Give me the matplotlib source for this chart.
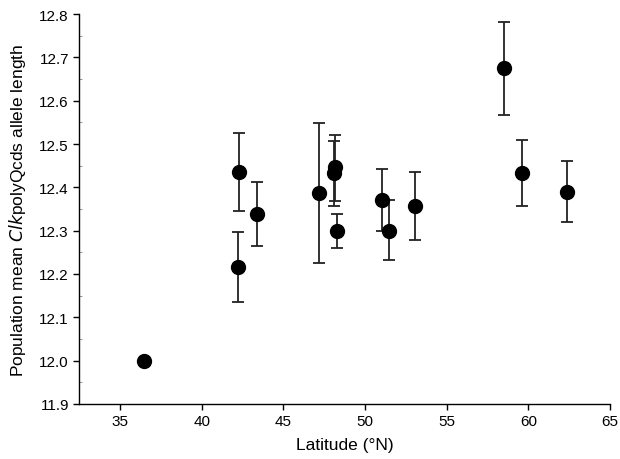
import matplotlib
matplotlib.use("Agg")
import matplotlib.pyplot as plt
import numpy as np
from matplotlib.ticker import MultipleLocator

plt.rcParams['font.family'] = ['Liberation Sans', 'DejaVu Sans']

latitude = [36.43, 42.30, 42.21, 43.38, 47.18, 48.16, 48.10, 48.30, 51.06, 51.47, 53.04, 58.52, 59.58, 62.38]
mean_len = [12.000, 12.435, 12.217, 12.339, 12.387, 12.447, 12.434, 12.300, 12.371, 12.300, 12.358, 12.675, 12.434, 12.390]
err_low = [0.0, 0.089, 0.082, 0.074, 0.162, 0.079, 0.076, 0.039, 0.071, 0.068, 0.079, 0.107, 0.076, 0.069]
err_high = [0.0, 0.091, 0.081, 0.074, 0.162, 0.075, 0.072, 0.038, 0.071, 0.071, 0.078, 0.108, 0.075, 0.070]

x_ticks = [35, 40, 45, 50, 55, 60, 65]
y_ticks = [11.9, 12.0, 12.1, 12.2, 12.3, 12.4, 12.5, 12.6, 12.7, 12.8]

fig = plt.figure(figsize=(6.2, 4.6), dpi=100)
ax = fig.add_axes([0.128, 0.12, 0.856, 0.847])

yerr = np.array([err_low, err_high])
ax.errorbar(latitude, mean_len, yerr=yerr, fmt='o', color='black', ecolor='#222222',
            markersize=10, elinewidth=1.3, capsize=4, capthick=1.3, zorder=3)

ax.set_xlim(32.5, 65)
ax.set_ylim(11.9, 12.8)
ax.set_xticks(x_ticks)
ax.set_yticks(y_ticks)
ax.set_yticklabels([f"{v:.1f}" for v in y_ticks])
ax.yaxis.set_minor_locator(MultipleLocator(0.05))
ax.tick_params(axis='both', which='major', direction='out', length=4, width=1, labelsize=11)
ax.tick_params(axis='y', which='minor', direction='in', length=2, width=0.6, color='#888888')

for s in ['top', 'right']:
    ax.spines[s].set_visible(False)
for s in ['left', 'bottom']:
    ax.spines[s].set_linewidth(1.0)

ax.set_xlabel('Latitude (°N)', fontsize=12.5, labelpad=6)
ax.set_ylabel('Population mean $\\mathit{Clk}$polyQcds allele length', fontsize=12.5, labelpad=8)

fig.savefig('out.png', dpi=100)
